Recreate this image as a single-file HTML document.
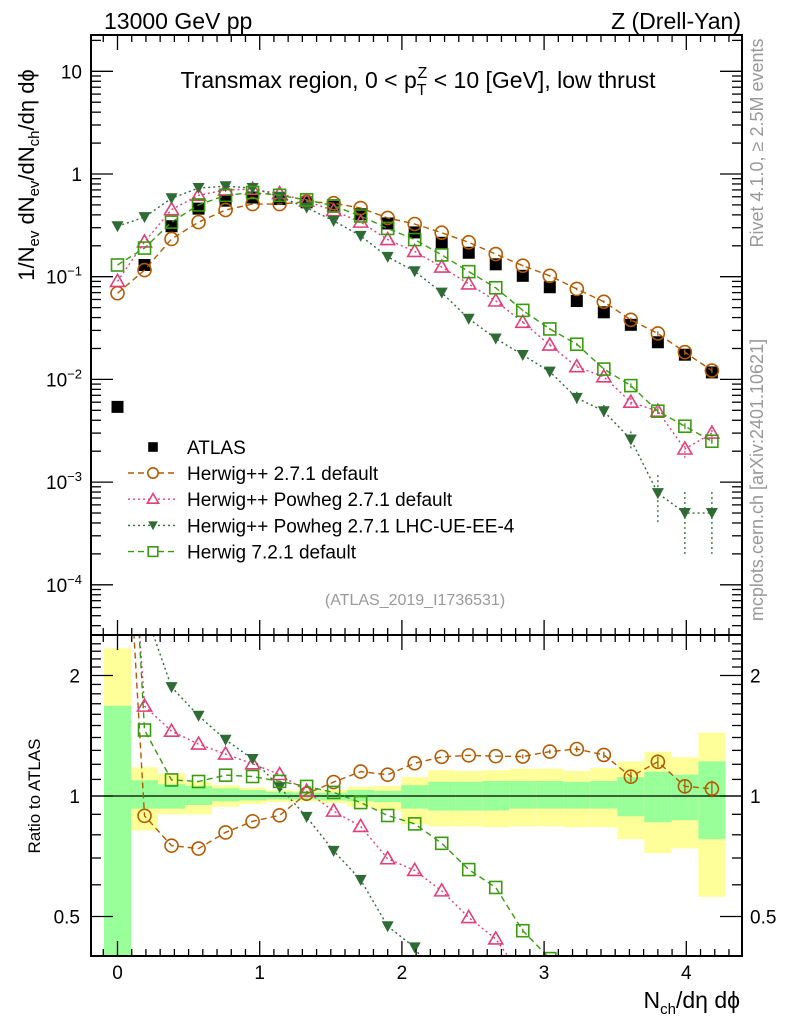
<!DOCTYPE html>
<html><head><meta charset="utf-8"><style>
html,body{margin:0;padding:0;background:#fff;width:786px;height:1024px;overflow:hidden;}
svg{display:block;font-family:"Liberation Sans",sans-serif;}
</style></head><body>
<svg id="c" width="786" height="1024" viewBox="0 0 786 1024">
<defs>
<clipPath id="cTop"><rect x="91" y="35" width="651" height="600"/></clipPath>
<clipPath id="cBot"><rect x="91" y="635" width="651" height="321"/></clipPath>
</defs>
<g id="bands" clip-path="url(#cBot)"></g>
<g id="topMarks" clip-path="url(#cTop)"></g>
<g id="botMarks" clip-path="url(#cBot)"></g>
<g id="axes"></g>
<text x="104" y="29" font-size="23">13000 GeV pp</text>
<text x="741" y="29" font-size="23" text-anchor="end">Z (Drell-Yan)</text>
<text x="418" y="88" font-size="23" text-anchor="middle">Transmax region, 0 &lt; p<tspan font-size="16" dy="7">T</tspan><tspan font-size="16" dx="-9" dy="-17">Z</tspan><tspan dy="10"> &lt; 10 [GeV], low thrust</tspan></text>
<text x="415" y="605" font-size="16" fill="#999" text-anchor="middle">(ATLAS_2019_I1736531)</text>
<text transform="translate(34,175) rotate(-90)" font-size="22" text-anchor="middle">1/N<tspan font-size="15" dy="5">ev</tspan><tspan dy="-5"> dN</tspan><tspan font-size="15" dy="5">ev</tspan><tspan dy="-5">/dN</tspan><tspan font-size="15" dy="5">ch</tspan><tspan dy="-5">/dη dϕ</tspan></text>
<text transform="translate(40,796) rotate(-90)" font-size="17" text-anchor="middle">Ratio to ATLAS</text>
<text x="740" y="1008" font-size="23" text-anchor="end">N<tspan font-size="15" dy="6">ch</tspan><tspan dy="-6">/dη dϕ</tspan></text>
<text transform="translate(763,143) rotate(-90)" font-size="18" fill="#999" text-anchor="middle">Rivet 4.1.0, ≥ 2.5M events</text>
<text transform="translate(763,480) rotate(-90)" font-size="18" fill="#999" text-anchor="middle">mcplots.cern.ch [arXiv:2401.10621]</text>
<g id="legend"></g>
</svg>
<script>
const xs = [0,0.19,0.38,0.57,0.76,0.95,1.14,1.33,1.52,1.71,1.9,2.09,2.28,2.47,2.66,2.85,3.04,3.23,3.42,3.61,3.8,3.99,4.18];
const atlas = [0.0054,0.13,0.31,0.46,0.55,0.59,0.57,0.53,0.48,0.405,0.33,0.27,0.214,0.171,0.132,0.102,0.079,0.058,0.045,0.034,0.023,0.0174,0.0117];
const hwDefault = [0.069,0.116,0.233,0.34,0.446,0.51,0.51,0.537,0.52,0.466,0.373,0.326,0.268,0.216,0.166,0.128,0.102,0.076,0.057,0.038,0.028,0.0184,0.0122];
const hwPowheg = [0.09,0.218,0.45,0.62,0.70,0.71,0.645,0.545,0.44,0.34,0.23,0.176,0.124,0.085,0.058,0.036,0.0216,0.0133,0.0106,0.0060,0.0049,0.0021,0.0030];
const hwPowhegUE = [0.31,0.38,0.58,0.73,0.76,0.73,0.60,0.47,0.35,0.25,0.156,0.113,0.070,0.039,0.025,0.0173,0.0119,0.0066,0.0049,0.0026,0.00078,0.0005,0.0005];
const hw7 = [0.13,0.19,0.34,0.50,0.62,0.66,0.62,0.56,0.49,0.39,0.295,0.23,0.163,0.112,0.078,0.047,0.031,0.022,0.0126,0.0087,0.0049,0.0035,0.0025];
const relErrUE = [0,0,0,0,0,0,0,0,0,0,0,0,0,0.03,0.05,0.07,0.1,0.15,0.15,0.2,0.5,0.6,0.6];
const relErrPow = [0,0,0,0,0,0,0,0,0,0,0,0,0,0,0,0.03,0.04,0.05,0.06,0.1,0.1,0.2,0.2];
const relErrHw = [0,0,0,0,0,0,0,0,0,0,0,0,0,0,0,0.02,0.02,0.03,0.03,0.05,0.05,0.07,0.08];
const statUp = [1.68,1.095,1.07,1.06,1.045,1.035,1.025,1.02,1.02,1.035,1.03,1.064,1.085,1.085,1.09,1.09,1.09,1.085,1.09,1.115,1.15,1.13,1.22];
const statDn = [0.2,0.93,0.93,0.95,0.97,0.975,0.98,0.98,0.975,0.97,0.965,0.93,0.92,0.92,0.92,0.93,0.93,0.93,0.93,0.89,0.86,0.87,0.78];
const totUp = [2.34,1.18,1.14,1.085,1.064,1.05,1.035,1.03,1.035,1.055,1.06,1.115,1.16,1.155,1.16,1.17,1.17,1.155,1.175,1.22,1.29,1.25,1.44];
const totDn = [0.2,0.82,0.90,0.90,0.94,0.955,0.965,0.97,0.96,0.94,0.92,0.85,0.84,0.84,0.835,0.84,0.84,0.835,0.835,0.78,0.72,0.74,0.56];
const topTicks = [10,1,0.1,0.01,0.001,0.0001];
const topTickLabels = ["10","1","10^-1","10^-2","10^-3","10^-4"];
const xTicks = [0,1,2,3,4];
const ratioTicks = [2,1,0.5];
const ratioTickLabels = ["2","1","0.5"];

const NS="http://www.w3.org/2000/svg";
const X = v => 117.5 + v*142.2;
const Y = v => 174 - Math.log10(v)*102.7;
const R = v => 796 - Math.log2(v)*120.5;
function mk(tag, attrs, parent){const e=document.createElementNS(NS,tag);for(const k in attrs)e.setAttribute(k,attrs[k]);parent.appendChild(e);return e;}
const axes=document.getElementById('axes'), topG=document.getElementById('topMarks'), botG=document.getElementById('botMarks'), bands=document.getElementById('bands'), leg=document.getElementById('legend');

for(let i=0;i<xs.length;i++){
  const x0=X(xs[i]-0.095), w=X(xs[i]+0.095)-x0;
  let r=mk('rect',{x:x0,y:R(totUp[i]),width:w,height:R(totDn[i])-R(totUp[i]),fill:'#ffff99'},bands);
  
  
  r=mk('rect',{x:x0,y:R(statUp[i]),width:w,height:R(statDn[i])-R(statUp[i]),fill:'#99ff99'},bands);
  
  
}
let ln=mk('line',{x1:91,x2:742,y1:R(1),y2:R(1),stroke:'#000','stroke-width':1.3},botG);



function marker(g,type,x,y,col,sc){
  sc=sc||1;
  let e;
  if(type==='circle') e=mk('circle',{cx:x,cy:y,r:6.5*sc,fill:'none',stroke:col,'stroke-width':1.6},g);
  else if(type==='tri') e=mk('polygon',{points:`${x},${y-7*sc} ${x-7*sc},${y+5*sc} ${x+7*sc},${y+5*sc}`,fill:'none',stroke:col,'stroke-width':1.6},g);
  else if(type==='itri') e=mk('polygon',{points:`${x-6*sc},${y-5*sc} ${x+6*sc},${y-5*sc} ${x},${y+6*sc}`,fill:col},g);
  else if(type==='sq') e=mk('rect',{x:x-6*sc,y:y-6*sc,width:12*sc,height:12*sc,fill:'none',stroke:col,'stroke-width':1.6},g);
  else e=mk('rect',{x:x-6*sc,y:y-6*sc,width:12*sc,height:12*sc,fill:'#000'},g);
  return e;
}
const series=[
 {name:'herwigpp-default',vals:hwDefault,err:relErrHw,col:'#b35a00',dash:'6,4',type:'circle',label:'Herwig++ 2.7.1 default'},
 {name:'herwigpp-powheg',vals:hwPowheg,err:relErrPow,col:'#e0407a',dash:'2,3',type:'tri',label:'Herwig++ Powheg 2.7.1 default'},
 {name:'herwigpp-powheg-ue',vals:hwPowhegUE,err:relErrUE,col:'#2e6b35',dash:'2,3',type:'itri',label:'Herwig++ Powheg 2.7.1 LHC-UE-EE-4'},
 {name:'herwig7-default',vals:hw7,err:relErrHw,col:'#3a9a10',dash:'6,4',type:'sq',label:'Herwig 7.2.1 default'}
];
atlas.forEach((v,i)=>{const m=marker(topG,'full',X(xs[i]),Y(v),'#000');
 
 });
series.forEach(s=>{
  const pt=s.vals.map((v,i)=>X(xs[i])+','+Y(v)).join(' ');
  let p=mk('polyline',{points:pt,fill:'none',stroke:s.col,'stroke-width':1.4,'stroke-dasharray':s.dash},topG);
  
  
  const rp=s.vals.map((v,i)=>X(xs[i])+','+R(Math.max(v/atlas[i],0.05))).join(' ');
  p=mk('polyline',{points:rp,fill:'none',stroke:s.col,'stroke-width':1.4,'stroke-dasharray':s.dash},botG);
  
  
  s.vals.forEach((v,i)=>{
    const x=X(xs[i]);
    if(s.err[i]>0){
      let e=mk('line',{x1:x,x2:x,y1:Y(v*(1+s.err[i])),y2:Y(Math.max(v*(1-s.err[i]),1e-6)),stroke:s.col,'stroke-width':1.3,'stroke-dasharray':s.dash},topG);
      
      
      const r=v/atlas[i];
      e=mk('line',{x1:x,x2:x,y1:R(r*(1+s.err[i]*0.6)),y2:R(r*(1-s.err[i]*0.6)),stroke:s.col,'stroke-width':1.3},botG);
      
      
    }
    let m=marker(topG,s.type,x,Y(v),s.col);
    
    
    m=marker(botG,s.type,x,R(v/atlas[i]),s.col);
    
    
  });
});
let lm=marker(leg,'full',153,447,'#000',0.8);


let lt=mk('text',{x:187,y:454,'font-size':19},leg); lt.textContent='ATLAS';


series.forEach((s,k)=>{
  const y=473+k*26.2;
  let l=mk('line',{x1:128,x2:177,y1:y,y2:y,stroke:s.col,'stroke-width':1.4,'stroke-dasharray':s.dash},leg);
  
  
  const m=marker(leg,s.type,153,y,s.col,0.8);
  if(s.type!=='itri') m.setAttribute('fill','#fff');
  
  
  const t=mk('text',{x:187,y:y+7,'font-size':19},leg); t.textContent=s.label;
  
  
});
[[35,635],[635,956]].forEach(([a,b])=>{
  const f=mk('rect',{x:91,y:a,width:651,height:b-a,fill:'none',stroke:'#000','stroke-width':2},axes);
  
  
});
for(let t=-0.1;t<=4.35;t+=0.1){
  const tv=Math.round(t*10)/10, x=X(tv), major=Math.abs(tv-Math.round(tv))<1e-6, L=major?15:7;
  [[35,1],[635,-1],[635,1],[956,-1]].forEach(([y,d])=>{
    const e=mk('line',{x1:x,x2:x,y1:y,y2:y+d*L,stroke:'#000','stroke-width':1.3},axes);
    
    
  });
}
xTicks.forEach(t=>{const e=mk('text',{x:X(t),y:979,'font-size':19,'text-anchor':'middle'},axes);e.textContent=t;
 
 });
for(let d=-5;d<=1;d++){for(let m=1;m<10;m++){
  const v=m*Math.pow(10,d), y=Y(v); if(y<35||y>635) continue;
  const L=m===1?22:10;
  [[91,1],[742,-1]].forEach(([x,s])=>{const e=mk('line',{x1:x,x2:x+s*L,y1:y,y2:y,stroke:'#000','stroke-width':1.3},axes);
   
   });
}}
topTicks.forEach((t,i)=>{
  const lab=topTickLabels[i], y=Y(t)+7;
  const e=mk('text',{x:82,y:y,'font-size':19,'text-anchor':'end'},axes);
  if(lab.indexOf('^')>0){const [b,ex]=lab.split('^');e.textContent=b;const ts=mk('tspan',{'font-size':13,dy:-8},e);ts.textContent=ex.replace('-','−');}
  else e.textContent=lab;
  
  
});
for(let v=0.4;v<=2.5;v+=0.1){
  const vv=Math.round(v*10)/10, y=R(vv); if(y<636||y>955) continue;
  const major=(vv===1||vv===2||vv===0.5), L=major?22:10;
  [[91,1],[742,-1]].forEach(([x,s])=>{const e=mk('line',{x1:x,x2:x+s*L,y1:y,y2:y,stroke:'#000','stroke-width':1.3},axes);
   
   });
}
ratioTicks.forEach((t,i)=>{
  let e=mk('text',{x:80,y:R(t)+7,'font-size':19,'text-anchor':'end'},axes);e.textContent=ratioTickLabels[i];
  
  
  e=mk('text',{x:750,y:R(t)+7,'font-size':19},axes);e.textContent=ratioTickLabels[i];
  
  
});
</script>
</body></html>
